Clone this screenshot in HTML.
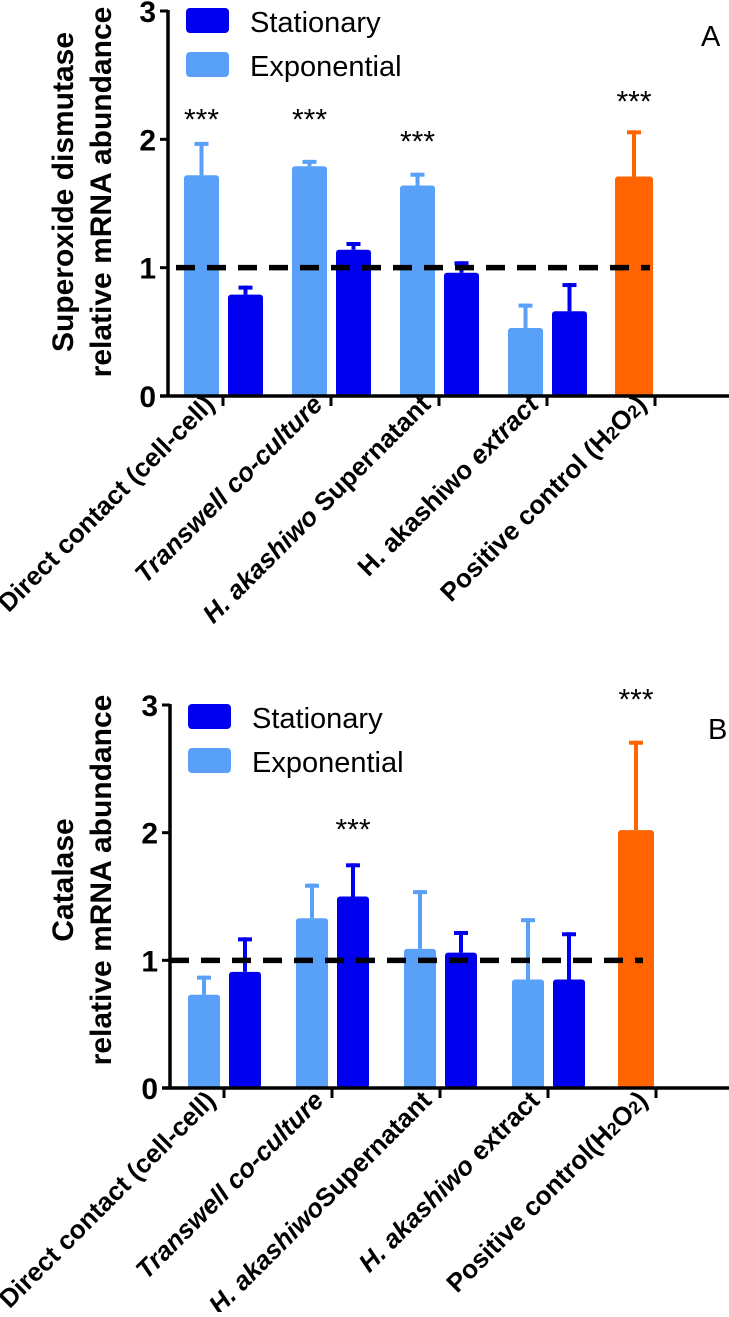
<!DOCTYPE html>
<html><head><meta charset="utf-8"><style>
html,body{margin:0;padding:0;background:#fff;}
svg text{font-family:"Liberation Sans",Arial,sans-serif;}
</style></head><body>
<svg id="fig" xmlns="http://www.w3.org/2000/svg" width="729" height="1312" viewBox="0 0 729 1312"></svg>
<script>
const categoriesA = ["Direct contact (cell-cell)", "Transwell co-culture", "H. akashiwo Supernatant", "H. akashiwo extract", "Positive control (H2O2)"];
const categoriesB = ["Direct contact (cell-cell)", "Transwell co-culture", "H. akashiwoSupernatant", "H. akashiwo extract", "Positive control(H2O2)"];
const yTicks = [0, 1, 2, 3];
const expA = [1.72, 1.79, 1.64, 0.53];
const expErrA = [1.98, 1.84, 1.74, 0.72];
const statA = [0.79, 1.14, 0.96, 0.66];
const statErrA = [0.86, 1.20, 1.05, 0.88];
const ctrlA = 1.71;
const ctrlErrA = 2.07;
const starsCatA = [0, 1, 2, 4];
const starsSerA = ["exp", "exp", "exp", "ctrl"];
const starsLevelA = [2.2, 2.2, 2.03, 2.34];
const expB = [0.73, 1.33, 1.09, 0.85];
const expErrB = [0.88, 1.60, 1.55, 1.33];
const statB = [0.91, 1.50, 1.06, 0.85];
const statErrB = [1.18, 1.76, 1.23, 1.22];
const ctrlB = 2.02;
const ctrlErrB = 2.72;
const starsCatB = [1, 4];
const starsSerB = ["stat", "ctrl"];
const starsLevelB = [2.07, 3.09];
const refLine = 1;

const NS = "http://www.w3.org/2000/svg";
const svg = document.getElementById("fig");
function el(tag, attrs, parent, txt) {
  const e = document.createElementNS(NS, tag);
  for (const k in attrs) e.setAttribute(k, attrs[k]);
  if (txt !== undefined) e.textContent = txt;
  (parent || svg).appendChild(e);
  return e;
}
const LIGHT = "#58a0f8", DARK = "#0000ee", ORANGE = "#ff6400";

function panel(p) {
  const g = el("g", {});
  
  
  const y = v => p.y0 - v * (p.y0 - p.y3) / 3;
  const tickX = i => p.t0 + i * 108;
  const tt = el("text", {transform: `translate(${p.titleX},${p.titleY}) rotate(-90)`, "text-anchor": "middle", "font-size": 30, "font-weight": "bold"}, g);
  
  
  el("tspan", {x: 0, dy: 0}, tt, p.title1);
  el("tspan", {x: 0, dy: 38}, tt, p.title2);
  function bar(cx, off, w, v, err, color, nm) {
    const yt = y(v), ye = y(err);
    const eg = el("line", {x1: cx + off + w / 2, x2: cx + off + w / 2, y1: yt, y2: ye, stroke: color, "stroke-width": 4}, g);
    
    
    const cap = el("line", {x1: cx + off + w / 2 - 7, x2: cx + off + w / 2 + 7, y1: ye + 2, y2: ye + 2, stroke: color, "stroke-width": 4}, g);
    
    
    const r = el("rect", {x: cx + off, y: yt, width: w, height: p.y0 - yt, fill: color, rx: 3}, g);
    
    
  }
  for (let i = 0; i < p.exp.length; i++) {
    bar(tickX(i), p.lOff, p.w, p.exp[i], p.expErr[i], LIGHT, 'bar-exponential-' + (i + 1));
    bar(tickX(i), p.dOff, p.w, p.stat[i], p.statErr[i], DARK, 'bar-stationary-' + (i + 1));
  }
  bar(tickX(4), p.oOff, p.ow, p.ctrl, p.ctrlErr, ORANGE, 'bar-positive-control');
  const rl = el("line", {x1: p.refX1, x2: p.refX2, y1: y(refLine), y2: y(refLine), stroke: "#000", "stroke-width": 5.5, "stroke-dasharray": "19 12"}, g);
  
  
  const ya = el("line", {x1: p.ax, x2: p.ax, y1: p.y3 - 1, y2: p.y0 + 1.5, stroke: "#000", "stroke-width": 3.5}, g);
  
  
  const xa = el("line", {x1: p.ax - 8, x2: 729, y1: p.y0, y2: p.y0, stroke: "#000", "stroke-width": 3.5}, g);
  
  
  yTicks.forEach(t => {
    const tk = el("line", {x1: p.ax - 8, x2: p.ax, y1: y(t), y2: y(t), stroke: "#000", "stroke-width": 3}, g);
    
    
    const tl = el("text", {x: p.ax - 12, y: y(t) + 11, "text-anchor": "end", "font-size": 30, "font-weight": "bold"}, g, String(t));
    
    
  });
  p.cats.forEach((c, i) => {
    const tk = el("line", {x1: tickX(i), x2: tickX(i), y1: p.y0, y2: p.y0 + 10, stroke: "#000", "stroke-width": 3}, g);
    
    
    const lt = el("text", {transform: `translate(${tickX(i) - 7},${p.y0 + p.labDy}) rotate(-45)`, "text-anchor": "end", "font-size": 26, "font-weight": "bold"}, g);
    
    
    p.italic[i].forEach(([txt, it, sub]) => {
      const ts = el("tspan", {}, lt, txt);
      if (it) ts.setAttribute("font-style", "italic");
      if (sub) ts.setAttribute("font-size", 18);
    });
  });
  p.starsCat.forEach((ci, k) => {
    const s = p.starsSer[k];
    const off = s === "exp" ? p.lOff : s === "stat" ? p.dOff : p.oOff;
    const w = s === "ctrl" ? p.ow : p.w;
    const st = el("text", {x: tickX(ci) + off + w / 2, y: y(p.starsLevel[k]) + 16, "text-anchor": "middle", "font-size": 30}, g, "***");
    
    
  });
  const lg = el("g", {}, g);
  
  
  [["Stationary", DARK], ["Exponential", LIGHT]].forEach(([n, c], k) => {
    const sw = el("rect", {x: p.legX, y: p.legY + k * 44, width: 43, height: 25, rx: 4, fill: c}, lg);
    
    
    const lt = el("text", {x: p.legX + 64, y: p.legY + k * 44 + 24, "font-size": 29}, lg, n);
    
    
  });
  const pl = el("text", {x: p.letterX, y: p.letterY, "font-size": 29}, g, p.letter);
  
  
}

const labA = [
  [["Direct contact (cell-cell)"]],
  [["Transwell", true], [" co-culture", true]],
  [["H. akashiwo", true], [" Supernatant"]],
  [["H. akashiwo"], [" extract", true]],
  [["Positive control (H"], ["2", false, true], ["O"], ["2", false, true], [")"]]
];
const labB = [
  [["Direct contact (cell-cell)"]],
  [["Transwell", true], [" co-culture", true]],
  [["H. akashiwo", true], ["Supernatant"]],
  [["H. akashiwo", true], [" extract"]],
  [["Positive control(H"], ["2", false, true], ["O"], ["2", false, true], [")"]]
];

panel({name: "panel-a-superoxide-dismutase", y0: 396, y3: 11, ax: 168, t0: 223, lOff: -39, dOff: 5, oOff: -40, w: 35, ow: 38,
  exp: expA, expErr: expErrA, stat: statA, statErr: statErrA, ctrl: ctrlA, ctrlErr: ctrlErrA,
  starsCat: starsCatA, starsSer: starsSerA, starsLevel: starsLevelA, refX1: 176, refX2: 650,
  cats: categoriesA, italic: labA, labDy: 10, title1: "Superoxide dismutase", title2: "relative mRNA abundance",
  titleX: 73, titleY: 192, legX: 186, legY: 8, letter: "A", letterX: 701, letterY: 46});
panel({name: "panel-b-catalase", y0: 1088, y3: 705, ax: 170, t0: 224, lOff: -36, dOff: 5, oOff: -38, w: 32, ow: 36,
  exp: expB, expErr: expErrB, stat: statB, statErr: statErrB, ctrl: ctrlB, ctrlErr: ctrlErrB,
  starsCat: starsCatB, starsSer: starsSerB, starsLevel: starsLevelB, refX1: 170, refX2: 643,
  cats: categoriesB, italic: labB, labDy: 14, title1: "Catalase", title2: "relative mRNA abundance",
  titleX: 73, titleY: 880, legX: 188, legY: 704, letter: "B", letterX: 708, letterY: 739});
</script>
</body></html>
